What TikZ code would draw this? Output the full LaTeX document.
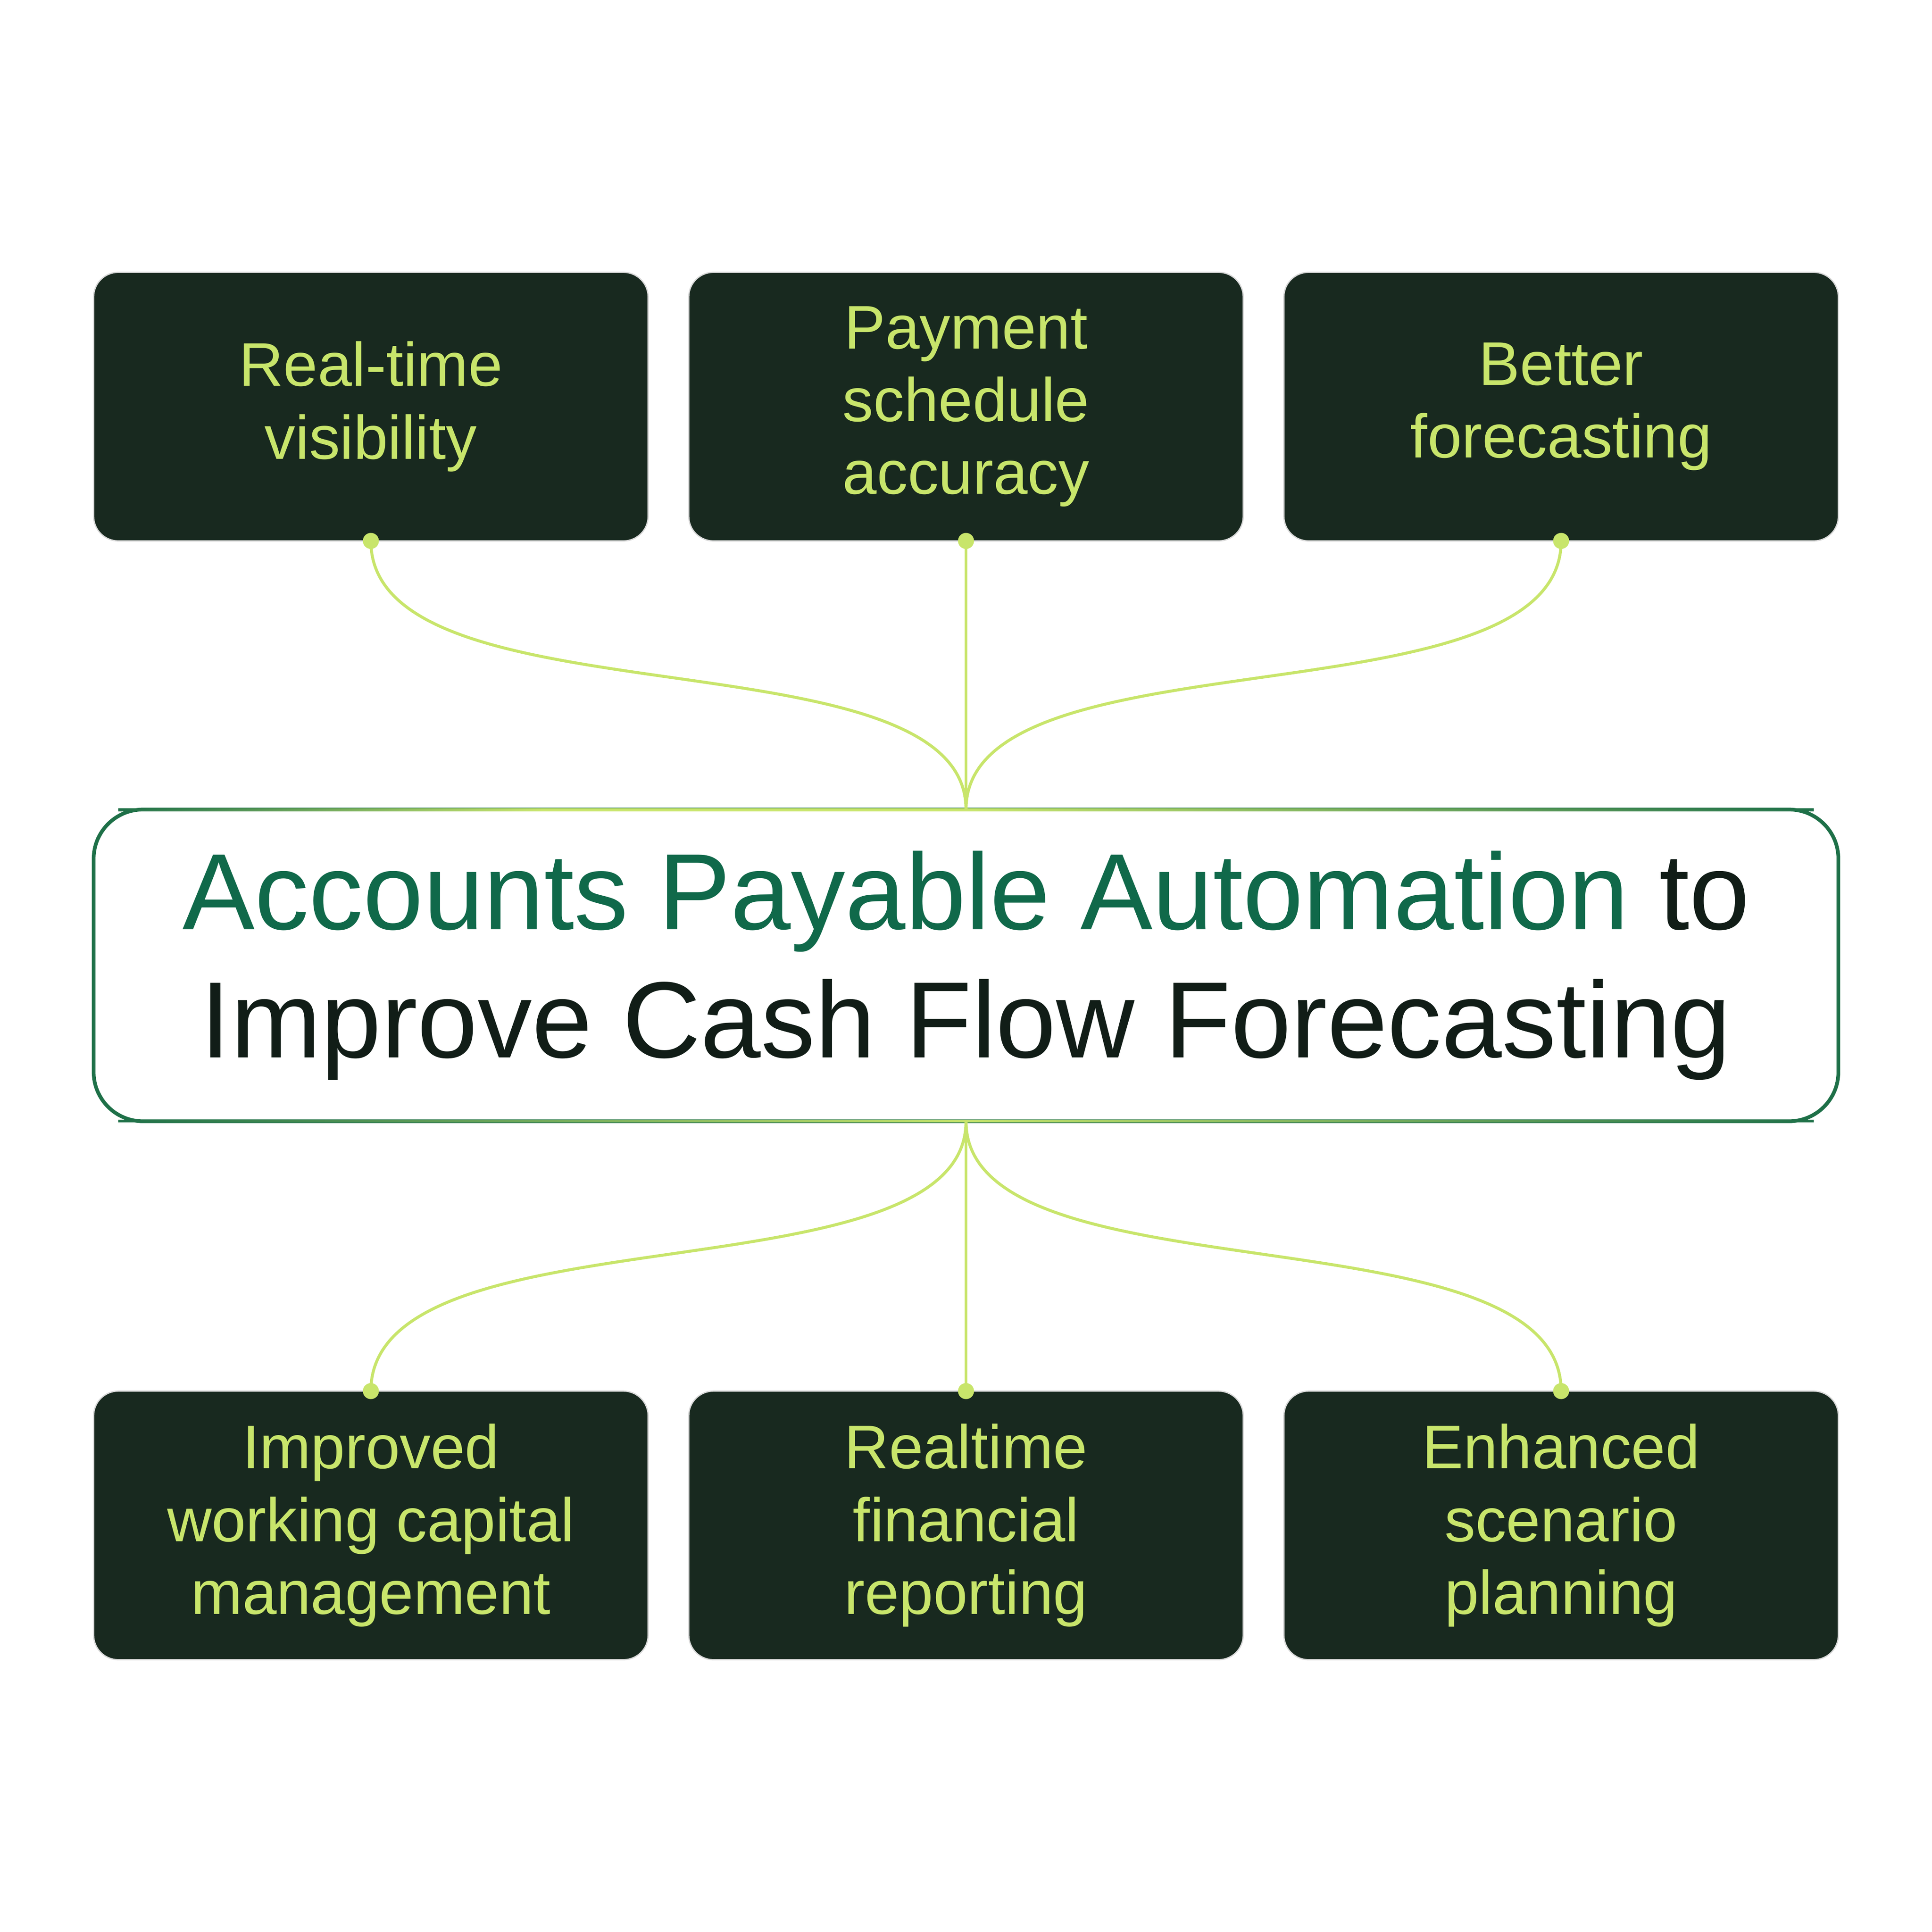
\documentclass[tikz,border=0pt]{standalone}
\usepackage{fontspec}
\setmainfont{Liberation Sans}
\definecolor{boxbg}{HTML}{18291F}
\definecolor{lime}{HTML}{C8E56B}
\definecolor{dgreen}{HTML}{10694A}
\definecolor{ink}{HTML}{111D17}
\definecolor{bord}{HTML}{1E7048}
\begin{document}
\begin{tikzpicture}[x=0.5pt,y=-0.5pt,
  box/.style={draw=white!85!black,line width=0.5pt,fill=boxbg,rounded corners=10pt,minimum width=225pt,minimum height=109pt,align=center,text=lime,font=\fontsize{25}{29.5}\selectfont,inner sep=0pt},
  dot/.style={circle,fill=lime,inner sep=0pt,minimum size=6.5pt},
  link/.style={draw=lime,line width=1.2pt}]
\useasboundingbox (0,0) rectangle (1568,1568);
\fill[white] (0,0) rectangle (1568,1568);
% top boxes
\node[box] (t1) at (301,330) {Real-time\\visibility};
\node[box] (t2) at (784,330) {Payment\\schedule\\accuracy};
\node[box] (t3) at (1267,330) {Better\\forecasting};
\node[box] (b1) at (301,1238) {Improved\\working capital\\management};
\node[box] (b2) at (784,1238) {Realtime\\financial\\reporting};
\node[box] (b3) at (1267,1238) {Enhanced\\scenario\\planning};
% centre
\node[draw=bord,line width=1.5pt,rounded corners=20pt,minimum width=708pt,minimum height=126.5pt,align=center,inner sep=0pt,font=\fontsize{44}{52}\selectfont] (c) at (784,783.5)
 {\textcolor{dgreen}{Accounts Payable Automation} \textcolor{ink}{to}\\\textcolor{ink}{Improve Cash Flow Forecasting}};
\shade[left color=bord,right color=lime,middle color=lime] (96,656.2) rectangle (784,658.2);
\shade[left color=lime,right color=bord] (784,656.2) rectangle (1472,658.2);
\shade[left color=bord,right color=lime] (96,908.8) rectangle (784,910.8);
\shade[left color=lime,right color=bord] (784,908.8) rectangle (1472,910.8);
\coordinate (ct) at (784,657);
\coordinate (cb) at (784,910);
% connectors
\coordinate (d1) at (301,439); \coordinate (d2) at (784,439); \coordinate (d3) at (1267,439);
\coordinate (e1) at (301,1129); \coordinate (e2) at (784,1129); \coordinate (e3) at (1267,1129);
\draw[link] (d1) .. controls (301,590) and (784,510) .. (ct);
\draw[link] (d2) -- (ct);
\draw[link] (d3) .. controls (1267,590) and (784,510) .. (ct);
\draw[link] (e1) .. controls (301,978) and (784,1057) .. (cb);
\draw[link] (e2) -- (cb);
\draw[link] (e3) .. controls (1267,978) and (784,1057) .. (cb);
\foreach \p in {d1,d2,d3,e1,e2,e3} \node[dot] at (\p) {};
\end{tikzpicture}
\end{document}
